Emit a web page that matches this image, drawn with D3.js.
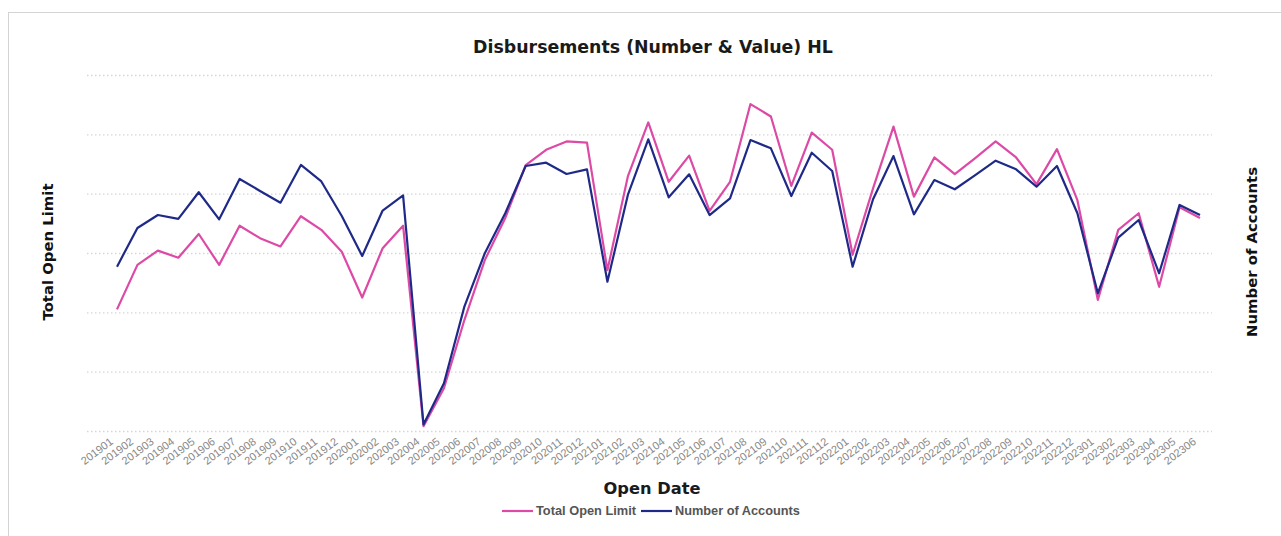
<!DOCTYPE html>
<html>
<head>
<meta charset="utf-8">
<script src="https://cdn.jsdelivr.net/npm/d3@7"></script>
<style>
  html, body { margin: 0; padding: 0; background: #fff; }
  svg { display: block; font-family: "Liberation Sans", Arial, sans-serif; }
</style>
</head>
<body>
<svg id="chart" width="1281" height="536"></svg>
<script>
// Open months (YYYYMM)
const months = [
  "201901","201902","201903","201904","201905","201906","201907","201908","201909","201910","201911","201912",
  "202001","202002","202003","202004","202005","202006","202007","202008","202009","202010","202011","202012",
  "202101","202102","202103","202104","202105","202106","202107","202108","202109","202110","202111","202112",
  "202201","202202","202203","202204","202205","202206","202207","202208","202209","202210","202211","202212",
  "202301","202302","202303","202304","202305","202306"
];

// Total Open Limit (left axis, millions)
const totalOpenLimit = [
  205, 280, 304, 292, 332, 280, 346, 325, 311, 362, 339, 302,
  225, 308, 346, 8, 72, 187, 288, 359, 448, 474, 488, 486,
  271, 429, 520, 420, 464, 371, 420, 551, 530, 413, 503, 474,
  297, 409, 513, 395, 461, 433, 460, 488, 461, 416, 475, 389,
  221, 339, 367, 243, 377, 359
];

// Number of Accounts (right axis)
const numberOfAccounts = [
  1385, 1711, 1820, 1787, 2012, 1784, 2124, 2023, 1924, 2242, 2103, 1812,
  1475, 1858, 1985, 55, 402, 1048, 1498, 1835, 2233, 2261, 2166, 2205,
  1258, 1989, 2458, 1969, 2163, 1820, 1961, 2452, 2382, 1980, 2345, 2191,
  1385, 1953, 2317, 1826, 2115, 2037, 2157, 2278, 2205, 2059, 2233, 1835,
  1160, 1629, 1778, 1329, 1905, 1820
];

const leftDomain = [0, 600];
const rightDomain = [0, 3000];

const seriesNames = ["Total Open Limit", "Number of Accounts"];
const seriesColors = ["#dc4aa6", "#1f2a88"];

const svg = d3.select("#chart");

// scale a text's font size so it spans the given width
function fitText(sel, width) {
  const base = +sel.attr("font-size");
  const len = sel.node().getComputedTextLength();
  if (len > 0) sel.attr("font-size", (base * width / len).toFixed(2));
  return sel;
}

// outer frame
svg.append("rect")
  .attr("x", 8.5).attr("y", 12.5)
  .attr("width", 1400).attr("height", 700)
  .attr("fill", "none").attr("stroke", "#d4d4d4").attr("stroke-width", 1);

const plot = { left: 87, right: 1212, top: 75, bottom: 431 };

const x = d3.scalePoint().domain(months).range([117, 1200]);
const yLeft = d3.scaleLinear().domain(leftDomain).range([plot.bottom, plot.top]);
const yRight = d3.scaleLinear().domain(rightDomain).range([plot.bottom, plot.top]);

// dotted horizontal gridlines, no tick labels
const grid = svg.append("g")
  .attr("transform", `translate(${plot.left},0)`)
  .call(d3.axisLeft(yLeft).ticks(6).tickSize(-(plot.right - plot.left)).tickFormat(""));
grid.select(".domain").remove();
grid.selectAll(".tick line")
  .attr("stroke", "#d6d6d6")
  .attr("stroke-width", 1.3)
  .attr("stroke-dasharray", "1.5,2.5");

// x axis labels, rotated
const xAxis = svg.append("g")
  .attr("transform", `translate(0,${plot.bottom + 4})`)
  .call(d3.axisBottom(x).tickSize(0).tickPadding(0));
xAxis.select(".domain").remove();
xAxis.selectAll(".tick text")
  .attr("fill", "#888")
  .attr("font-size", 11)
  .attr("text-anchor", "end")
  .attr("dy", "0.35em")
  .attr("transform", "translate(-6,5) rotate(-37)");

// lines
const lineLeft = d3.line()
  .x((d, i) => x(months[i]))
  .y(d => yLeft(d));
const lineRight = d3.line()
  .x((d, i) => x(months[i]))
  .y(d => yRight(d));

svg.append("path")
  .datum(totalOpenLimit)
  .attr("d", lineLeft)
  .attr("fill", "none")
  .attr("stroke", seriesColors[0])
  .attr("stroke-width", 2.2)
  .attr("stroke-linejoin", "round");

svg.append("path")
  .datum(numberOfAccounts)
  .attr("d", lineRight)
  .attr("fill", "none")
  .attr("stroke", seriesColors[1])
  .attr("stroke-width", 2.2)
  .attr("stroke-linejoin", "round");

const heading = "DejaVu Sans, Liberation Sans, sans-serif";

// title
fitText(svg.append("text")
  .attr("x", 653).attr("y", 53)
  .attr("text-anchor", "middle")
  .attr("font-family", heading)
  .attr("font-size", 16)
  .attr("font-weight", "bold")
  .attr("fill", "#1a1a1a")
  .text("Disbursements (Number & Value) HL"), 360);

// axis titles
fitText(svg.append("text")
  .attr("transform", "translate(53,252) rotate(-90)")
  .attr("text-anchor", "middle")
  .attr("font-family", heading)
  .attr("font-size", 14)
  .attr("font-weight", "bold")
  .attr("fill", "#111")
  .text("Total Open Limit"), 137);

fitText(svg.append("text")
  .attr("transform", "translate(1257,252) rotate(-90)")
  .attr("text-anchor", "middle")
  .attr("font-family", heading)
  .attr("font-size", 14)
  .attr("font-weight", "bold")
  .attr("fill", "#111")
  .text("Number of Accounts"), 170);

fitText(svg.append("text")
  .attr("x", 652).attr("y", 494)
  .attr("text-anchor", "middle")
  .attr("font-family", heading)
  .attr("font-size", 16)
  .attr("font-weight", "bold")
  .attr("fill", "#1a1a1a")
  .text("Open Date"), 97);

// legend
const legend = svg.append("g").attr("transform", "translate(502,511)");
const legendItems = [
  { name: seriesNames[0], color: seriesColors[0], x: 0, w: 100 },
  { name: seriesNames[1], color: seriesColors[1], x: 139, w: 125 }
];
legendItems.forEach(item => {
  const g = legend.append("g").attr("transform", `translate(${item.x},0)`);
  g.append("line")
    .attr("x1", 0).attr("x2", 31).attr("y1", 0).attr("y2", 0)
    .attr("stroke", item.color).attr("stroke-width", 2.2);
  fitText(g.append("text")
    .attr("x", 34).attr("y", 0).attr("dy", "0.35em")
    .attr("font-size", 12)
    .attr("font-weight", "bold")
    .attr("fill", "#555")
    .text(item.name), item.w);
});
</script>
</body>
</html>
